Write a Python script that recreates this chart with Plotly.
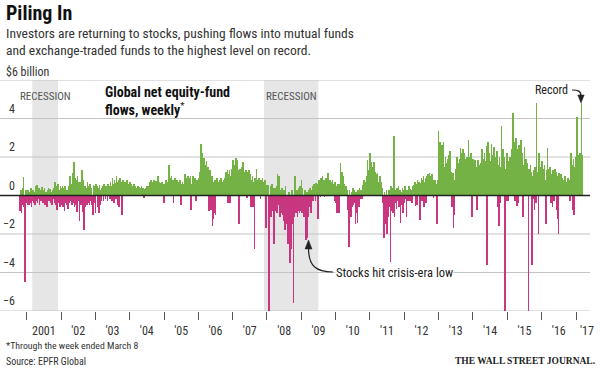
import pandas as pd
import plotly.graph_objects as go

# ---------------- data: weekly net flows, $ billion ----------------
# each segment: first week date, weekly values
flows_2000 = [-0.8, 0.3, -0.9, -0.5, 0.4, 0.95, -0.6, -4.5, 0.3, -0.4, 0.3, -0.5]
flows_2001 = [0.3, -0.5, 0.2, -0.4, 0.4, -0.6, -0.3, 0.3, -0.4, 0.2, -0.5,
              0.5, -0.3, 0.55, -0.4, -0.2, 0.4, -0.5, 0.3, -0.3, 0.2,
              0.45, -0.4, 0.3, -0.3, 0.4, -0.5, 0.2, -0.4, -0.6, 0.3,
              0.4, -0.3, 0.35, -0.4, 0.2, -0.5, 0.3, -0.2, 0.4, -0.4,
              0.7, -0.5, 0.5, -0.75, 0.6, -0.4, 0.3, -0.6, 0.5, -0.5, 0.4]
flows_2002 = [0.5, -0.6, 0.4, -0.8, 0.5, -0.4, -0.5, 0.3, -0.7, 0.5, -0.4,
              1.0, -0.3, 0.6, -0.5, 1.15, -0.4, 1.75, -0.6, 0.9,
              -0.5, 0.8, -0.85, 1.0, -0.3, 0.7, -1.3, 0.7, -0.5, 0.6,
              1.35, -0.85, 0.8, -1.8, 0.5, -0.6, 0.4, -0.5, 0.7, -0.4,
              0.5, -0.5, 0.6, -0.3, 0.4, -0.5, -1.0, 0.55, -0.4, 0.5, -0.9, 0.6]
flows_2003 = [0.5, -0.6, 0.4, -0.9, 0.55, -0.5, 0.3,
              -0.3, 0.4, 0.5, -0.3, 0.6, 0.4, -0.2, 0.5, 0.3, -0.3, 0.6, 0.4, 0.5,
              -0.2, 0.7, 0.5, -0.3, 0.9, 0.6, -0.4, 0.8, 0.65, -0.2,
              1.0, 0.7, -0.5, 0.8, -0.6, 0.9, 0.6, 0.7, -1.0, 0.5,
              0.8, 0.6, 0.5, 0.7, 0.4, 0.6, 0.8, 0.5, 0.6, 0.5, 0.7, 0.4]
flows_2004 = [0.6, 0.4, 0.5, 0.45, 0.6, 0.4, 0.5,
              0.3, 0.4, 0.35, 0.5, 0.3, 0.45, 0.3, 0.4, 0.35, 0.5, 0.3, 0.4, 0.3,
              -0.15, 0.35, 0.4, 0.3, 0.5, 0.35, 0.45,
              0.5, 0.7, 0.6, 0.8, 0.5, 0.65, 0.7, 0.6, 0.8, 0.5, 0.7, 0.75, 0.6, 0.8,
              1.0, 0.6, 0.7, 0.5, 0.65, 0.55, 0.7, 0.6, 0.5, -0.4, 0.6]
flows_2005 = [0.65, 0.8, 0.5, 0.7, 0.6, 1.6, 0.7,
              0.9, 0.6, 1.0, 0.7, 0.8, -0.4, 0.6, 0.9, 0.7,
              0.5, 0.8, 0.6, 0.7, 0.5, 0.6, 0.8, 0.5, -0.5, 0.6, 0.7, 0.5, 0.6,
              0.8, 1.1, 0.7, 0.9, 0.6, 1.0, 0.8, 0.7, 0.9, 1.0, -0.75, 0.6,
              0.8, 1.0, 0.5, 0.7, 0.9, -0.3, 0.6, 0.8, 0.5, 0.7, 0.9, 1.2]
flows_2006 = [1.2, 2.65, 1.5, 2.2, 1.3,
              1.95, 1.4, 1.6, 1.3, 1.8, 1.2, 1.5,
              1.1, -0.8, 1.3, 0.9,
              -0.75, 1.0, -1.6, 0.7, -1.2, -0.9, 0.8, -1.0, 0.65, 0.9,
              0.5, 0.7, 0.6, 0.8, 0.5, 0.9, 0.6, 0.7, 0.5, 0.8, 0.6, 0.9, 1.0,
              1.2, 1.0, 1.35, -0.4, 1.1, 1.3, -0.4, 1.0, 1.2, 1.4,
              1.85, 1.4, 1.6]
flows_2007 = [1.6, 1.4, 1.95, 1.5, 1.85, 1.3,
              -1.5, 1.2, 1.4, 1.3, 1.5, 1.2, 1.75, 1.3, 1.1,
              1.2, 1.0, 1.3, 1.1, -0.15, 1.2, 1.0, 1.3, 1.1, 0.9,
              -0.6, 0.8, 1.0, -0.6, 0.7, -2.8, 0.9, 0.65, 1.4, 0.8, 0.7,
              0.6, 0.9, 0.5, -0.2, 0.8, 0.6, 0.9, 0.5, 0.7, 0.6, 0.8,
              -1.7, 0.55, 0.4, 0.55, 0.5]
flows_2008 = [-6.3, -1.1, 0.5, -1.1, 0.6, -0.8, 0.4, -2.5,
              -0.9, 0.4, -0.8, 0.5, -0.9,
              1.1, -0.5, 1.0, -1.1,
              -1.1, 0.3, -0.9, 0.4, -1.0,
              -1.3, 0.3, -1.8, 0.5, -1.1, -1.5,
              -1.8, -2.5, 0.2, -2.0, -3.5, -1.9, -2.8, 0.3, -1.5,
              -5.6,
              -1.1, 1.0, -0.7, -0.9, 0.3, -1.1, -0.8, 0.4,
              -0.9, 0.5, -0.8, 0.8, -0.9, 0.4, -0.9]
flows_2009 = [-1.1, 0.3, -1.5, -2.3, 0.2, -2.2,
              -1.1, 0.3, -0.6, 0.4, -0.9, 0.3, -0.3, 0.5,
              -0.3, 0.6, 0.5, -0.3, 0.65, 0.5, 0.6, -1.2,
              0.6, 0.8, 0.55, -0.1, 0.9, 0.7, 1.0, 0.6, 0.8, -0.1, 0.7, 0.9, 0.6, 0.8, 1.15,
              0.7, 0.6, 0.8, 0.5, 0.7, 0.6, 0.8, 0.5, 0.6, -0.3, 0.7, -0.4, 0.5, -0.9, 0.6]
flows_2010 = [0.5, -0.9, 0.6, 1.7, 0.8, 1.2, 0.6, 1.0,
              0.4, 0.6, 0.3, 0.5, 0.4, 0.3, -0.75,
              -1.35, -2.65, 0.3, -0.4, -1.1, 0.2, -0.6, 0.4, -0.5,
              0.3, -0.4, -1.5, 0.2, -0.9, -1.45, 0.3, -0.6, 0.4, 0.3,
              -0.2, 0.3, -0.2, 0.55, 0.4, 0.8, 0.6, 0.7, 0.55,
              1.0, 1.85, 0.8, 1.35, 1.0, 2.2, 1.2, 1.75, 1.0]
flows_2011 = [1.5, 1.0, 1.75, 1.2, 0.8, 1.1,
              0.9, 1.15, 0.7, 0.55, 0.8, 1.0, 0.6, 0.7, 0.4,
              0.3, -0.4, -2.2, 0.2, -1.5, -0.6, 0.3, -2.0, -0.5,
              -1.1, 0.3, -0.6, -3.45, 0.5, -0.8, 0.4, -0.9, 3.1,
              -1.1, -0.4, 0.3, -0.7, 0.4, -0.3, 0.5,
              -0.6, 0.3, -1.45, 0.2, -0.5, 0.4, -0.9, 0.3, -0.4, 0.5, -0.2, -1.1]
flows_2012 = [0.3, -0.3, 0.4, 0.5, -0.3, 0.35, 0.3, -0.4, 0.5, 0.4, 0.55,
              0.6, 0.7, -0.55, 0.6, -0.5, 0.8, 0.55, 0.7, 0.6, -1.25,
              0.65, 0.9, -0.3, 0.8, 1.0, -0.6, 0.7, 0.9, -0.4, 1.0,
              0.8, 1.1, 0.9, 1.15, 0.85, 1.0, 0.9, 1.1, 0.8, -0.15,
              0.8, 0.7, 0.8, 0.6, -1.5, 0.8, 0.7,
              3.35, 2.0, 2.8, 2.4, 2.2]
flows_2013 = [2.6, 2.2, 2.8, 1.0,
              1.5, 2.0, 0.9, 1.7, 1.9, 1.0, 2.1, 1.6, 2.3,
              1.2, 0.9, -0.6, 1.15, -1.7, 0.55, -1.0, 0.8,
              1.4, 0.8, 2.0, 1.3, 1.7, 0.9, 1.9,
              2.45, 1.0, 2.2, 1.5, 2.4,
              1.0, 2.2, 1.35, 1.9, 0.9, 2.0, 1.7,
              2.9, 1.0, 2.0, 1.4, 2.2,
              -1.1, 1.5, 1.9, 0.9, 1.7, 1.85, 1.0]
flows_2014 = [1.5, -0.75, 1.85, 1.0, 1.6, 1.35, 1.7, 0.9,
              2.4, 1.5, 1.9, 1.0, 2.2, 1.6, 1.8,
              2.55, -3.6, 1.9, 2.8, 1.0, 2.2, 1.4, 1.8,
              2.7, 1.0, 2.1, 1.35, 2.5, 0.9, 2.0, 1.5, 2.3,
              -0.6, 1.6, -1.6, 2.0, -0.4, 1.5,
              3.6, 1.0, 2.4, 1.5, 2.0, -6.3,
              1.4, -0.3, 2.2, 1.0, -0.3, 1.8, 1.35, 2.0]
flows_2015 = [1.8, 2.4, 1.0, 4.3, 2.2,
              2.8, -0.3, 2.0, 3.0, -0.55, 2.4, 1.0, -0.4, 2.6, 2.0,
              1.0, 2.9, 1.8, 2.2, -1.1, 1.6, 2.5, 1.0, 1.9, 1.2, 1.7,
              1.0, -6.3, 1.4, 0.9, 1.6, 1.2, -3.6, 1.0,
              -0.2, 1.3, -0.75, 1.5, -0.4, 4.8, 1.2,
              0.8, -2.0, 2.2, 1.0, 1.5, 0.65, 1.8, 1.1, 1.4, 0.9, 1.6]
flows_2016 = [0.8, -1.5, 1.3, 2.45, 1.1, 1.4, 1.0, 1.5, 1.2, -0.4, 1.1, -0.6,
              1.3, -0.3, 1.0, 1.4, 1.2, -0.75, 1.0, -1.2, -2.0, 1.15, 0.8, 0.65,
              1.1, 0.7, 0.9, 0.6, 0.8, 0.5, 1.0, 0.6, 0.7, 0.5, 0.9, 0.6, 0.8,
              -0.3, 1.4, 2.2, 1.6, 1.35, -0.75, 1.9, -1.0, 1.5, 2.0]
flows_2017 = [1.9, 4.1, 2.0, 1.8, 2.1, 1.9, 2.2, 2.0, 4.8, 2.1]

segment_starts = ["2000-10-25", "2001-01-17", "2002-01-17", "2003-01-17", "2004-01-17",
                  "2005-01-17", "2006-01-24", "2007-01-24", "2008-01-24", "2009-01-31",
                  "2010-01-31", "2011-01-31", "2012-01-31", "2013-02-07", "2014-02-07",
                  "2015-02-07", "2016-02-10", "2017-01-04"]
segments = [flows_2000, flows_2001, flows_2002, flows_2003, flows_2004, flows_2005,
            flows_2006, flows_2007, flows_2008, flows_2009, flows_2010, flows_2011,
            flows_2012, flows_2013, flows_2014, flows_2015, flows_2016, flows_2017]

year_label_dates = [f"{y}-07-02" for y in range(2001, 2017)] + ["2017-04-27"]
year_labels = ["2001", "'02", "'03", "'04", "'05", "'06", "'07", "'08", "'09", "'10",
               "'11", "'12", "'13", "'14", "'15", "'16", "'17"]
year_ticks = [f"{y}-01-01" for y in range(2001, 2018)]
y_grid = [-6, -4, -2, 2, 4, 6]
y_labels = ["−6", "−4", "−2", "0", "2", "4"]
y_label_vals = [-6, -4, -2, 0, 2, 4]
recessions = [("2001-03-01", "2001-11-30"), ("2007-12-01", "2009-06-30")]

GREEN = "#74b246"
PINK = "#c8367f"
NARROW = "Liberation Sans Narrow, Arial Narrow, Roboto Condensed, Roboto, sans-serif"

# ---------------- build series ----------------
dates, vals = [], []
for start, arr in zip(segment_starts, segments):
    d = pd.date_range(start, periods=len(arr), freq="7D")
    dates.extend(d)
    vals.extend(arr)
colors = [GREEN if v >= 0 else PINK for v in vals]

fig = go.Figure(go.Bar(x=dates, y=vals, marker=dict(color=colors, line=dict(width=0)),
                       width=7 * 24 * 3600 * 1000, hoverinfo="skip"))

# ---------------- layout geometry ----------------
W, H = 600, 370
PL, PR, PT, PB = 0, 590, 80, 311  # plot area in pixels
t0, t1 = pd.Timestamp("2001-01-01"), pd.Timestamp("2017-01-01")
px0, px1 = 26.7, 576.0
per_px = (t1 - t0) / (px1 - px0)
xr = [t0 - per_px * (px0 - PL), t0 + per_px * (PR - px0)]


def fx(px):
    return (px - PL) / (PR - PL)


def fy(py):
    return (PB - py) / (PB - PT)


shapes = []
for a, b in recessions:
    shapes.append(dict(type="rect", xref="x", yref="paper", x0=a, x1=b, y0=0, y1=1,
                       fillcolor="#e6e6e6", line=dict(width=0), layer="below"))
for g in y_grid:
    shapes.append(dict(type="line", xref="paper", yref="y", x0=0, x1=1, y0=g, y1=g,
                       line=dict(color="#c4c4c4", width=1), layer="below"))
shapes.append(dict(type="line", xref="paper", yref="y", x0=0, x1=1, y0=0, y1=0,
                   line=dict(color="#222222", width=1.5), layer="above"))


def P(px, py):
    return f"{fx(px):.5f},{fy(py):.5f}"


# curved arrow: crisis-era low
shapes.append(dict(type="path", xref="paper", yref="paper",
                   path=f"M {P(333,272)} C {P(316,272)} {P(308.5,266)} {P(308.5,248)}",
                   line=dict(color="#222", width=1.2)))
shapes.append(dict(type="path", xref="paper", yref="paper",
                   path=f"M {P(305,249)} L {P(312,249)} L {P(308.5,240)} Z",
                   fillcolor="#222", line=dict(color="#222", width=0.5)))
# curved arrow: record
shapes.append(dict(type="path", xref="paper", yref="paper",
                   path=f"M {P(572,90)} C {P(578,90)} {P(581,91)} {P(581,96)}",
                   line=dict(color="#222", width=1.2)))
shapes.append(dict(type="path", xref="paper", yref="paper",
                   path=f"M {P(577.8,95)} L {P(584.2,95)} L {P(581,103)} Z",
                   fillcolor="#222", line=dict(color="#222", width=0.5)))

ann = []


def text(px, py, s, size, color="#333", xanchor="left", yanchor="middle", family=NARROW,
         bg=None):
    d = dict(xref="paper", yref="paper", x=fx(px), y=fy(py), text=s, showarrow=False,
             xanchor=xanchor, yanchor=yanchor, align="left",
             font=dict(size=size, color=color, family=family))
    if bg:
        d["bgcolor"] = bg
        d["borderpad"] = 0
    ann.append(d)


text(4, 13, "<b>Piling In</b>", 20, color="#111")
text(4, 33, "Investors are returning to stocks, pushing flows into mutual funds", 13.5)
text(4, 50, "and exchange-traded funds to the highest level on record.", 13.5)
text(4, 72, "$6 billion", 12)
for v, lab in zip(y_label_vals, y_labels):
    ann.append(dict(xref="paper", yref="y", x=fx(17), y=v, yshift=1, text=lab, showarrow=False,
                    xanchor="right", yanchor="bottom",
                    font=dict(size=12, color="#333", family=NARROW)))
text(45, 96, "RECESSION", 11, color="#555", xanchor="center")
text(291, 96, "RECESSION", 11, color="#555", xanchor="center")
text(103, 92, "<b>Global net equity-fund</b>", 14, color="#111")
text(103, 109, "<b>flows, weekly</b><sup>*</sup>", 14, color="#111")
text(335, 272, "Stocks hit crisis-era low", 12.5, color="#222", bg="white")
text(570, 90, "Record", 12, color="#222", xanchor="right")
text(4, 345, "*Through the week ended March 8", 9.8)
text(4, 361, "Source: EPFR Global", 10)
text(597, 361, "<b>THE WALL STREET JOURNAL.</b>", 9.5, color="#222", xanchor="right",
     family="Liberation Serif, DejaVu Serif, serif")

fig.update_layout(
    width=W, height=H, margin=dict(l=PL, r=W - PR, t=PT, b=H - PB),
    paper_bgcolor="white", plot_bgcolor="white", showlegend=False, bargap=0,
    shapes=shapes, annotations=ann,
    xaxis=dict(type="date", range=xr, showgrid=False, zeroline=False, showline=False,
               tickvals=year_label_dates, ticktext=year_labels, ticks="outside", ticklen=9,
               tickcolor="rgba(0,0,0,0)", tickfont=dict(size=12, color="#333", family=NARROW),
               minor=dict(tickvals=year_ticks, ticks="outside", ticklen=8, tickcolor="#555",
                          tickwidth=1, showgrid=False),
               fixedrange=True),
    yaxis=dict(range=[-6, 6], showgrid=False, zeroline=False, showticklabels=False,
               showline=False, fixedrange=True),
)

fig.write_html("out.html", config={"displayModeBar": False},
               post_script="document.body.style.margin='0';")
